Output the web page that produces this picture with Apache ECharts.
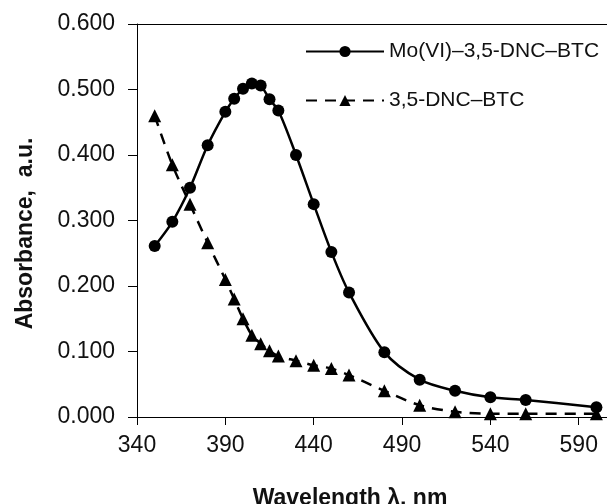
<!DOCTYPE html>
<html>
<head>
<meta charset="utf-8">
<script src="https://cdn.jsdelivr.net/npm/echarts@6/dist/echarts.min.js"></script>
<style>html,body{margin:0;padding:0;background:#fff}#c{width:607px;height:504px}</style>
</head>
<body>
<div id="c"></div>
<script>
var seriesNames = ['Mo(VI)\u20133,5-DNC\u2013BTC', '3,5-DNC\u2013BTC'];
var wlComplex = [350, 360, 370, 380, 390, 395, 400, 405, 410, 415, 420, 430, 440, 450, 460, 480, 500, 520, 540, 560, 600];
var absComplex = [0.261, 0.298, 0.350, 0.415, 0.466, 0.486, 0.501, 0.509, 0.506, 0.485, 0.468, 0.400, 0.325, 0.252, 0.190, 0.099, 0.057, 0.040, 0.030, 0.026, 0.015];
var wlLigand = [350, 360, 370, 380, 390, 395, 400, 405, 410, 415, 420, 430, 440, 450, 460, 480, 500, 520, 540, 560, 600];
var absLigand = [0.460, 0.385, 0.325, 0.266, 0.210, 0.180, 0.150, 0.125, 0.112, 0.101, 0.093, 0.086, 0.079, 0.074, 0.064, 0.040, 0.018, 0.008, 0.005, 0.005, 0.005];
var xTicks = [340, 390, 440, 490, 540, 590];
var yTicks = [0.000, 0.100, 0.200, 0.300, 0.400, 0.500, 0.600];
var xTitle = 'Wavelength \u03bb, nm';
var yTitle = 'Absorbance,  a.u.';

function pairs(xs, ys) { return xs.map(function (x, i) { return [x, ys[i]]; }); }

var FONT = '"Liberation Sans", Arial, sans-serif';
var chart = echarts.init(document.getElementById('c'), null, { renderer: 'canvas' });
chart.setOption({
  animation: false,
  backgroundColor: '#ffffff',
  grid: { left: 137, right: 0, top: 24, bottom: 87, containLabel: false, outerBoundsMode: 'none' },
  legend: {
    orient: 'vertical',
    left: 300,
    top: 36,
    itemWidth: 78,
    itemHeight: 14,
    itemGap: 28,
    textStyle: { fontFamily: FONT, fontSize: 21, color: '#111', padding: [0, 0, 0, 0] },
    data: seriesNames
  },
  xAxis: [{
    type: 'value',
    min: xTicks[0],
    max: 606,
    interval: 50,
    position: 'bottom',
    axisLine: { show: true, lineStyle: { color: '#000', width: 1 } },
    axisTick: { show: true, inside: false, length: 8, lineStyle: { color: '#000', width: 1 } },
    splitLine: { show: false },
    axisLabel: {
      margin: 17,
      fontFamily: FONT, fontSize: 23, color: '#111',
      showMaxLabel: false,
      formatter: function (v) { return xTicks.indexOf(v) >= 0 ? String(v) : ''; }
    },
    name: xTitle,
    nameLocation: 'middle',
    nameGap: 70,
    nameTextStyle: { fontFamily: FONT, fontSize: 23, fontWeight: 'bold', color: '#111', padding: [0, 44, 0, 0] }
  }, {
    type: 'value',
    min: xTicks[0],
    max: 606,
    position: 'top',
    axisLine: { show: true, lineStyle: { color: '#000', width: 1 } },
    axisTick: { show: false },
    axisLabel: { show: false },
    splitLine: { show: false }
  }],
  yAxis: {
    type: 'value',
    min: yTicks[0],
    max: yTicks[yTicks.length - 1],
    interval: 0.1,
    axisLine: { show: true, lineStyle: { color: '#000', width: 1 } },
    axisTick: { show: true, inside: false, length: 9, lineStyle: { color: '#000', width: 1 } },
    splitLine: { show: false },
    axisLabel: {
      margin: 22,
      fontFamily: FONT, fontSize: 23, color: '#111',
      formatter: function (v) { return v.toFixed(3); }
    },
    name: yTitle,
    nameLocation: 'middle',
    nameGap: 100,
    nameRotate: 90,
    nameTextStyle: { fontFamily: FONT, fontSize: 23, fontWeight: 'bold', color: '#111', padding: [0, 26, 0, 0] }
  },
  series: [{
    name: seriesNames[0],
    type: 'line',
    data: pairs(wlComplex, absComplex),
    smooth: 0.3,
    symbol: 'circle',
    symbolSize: 12,
    lineStyle: { color: '#000', width: 2.5 },
    itemStyle: { color: '#000' },
    z: 3
  }, {
    name: seriesNames[1],
    type: 'line',
    data: pairs(wlLigand, absLigand),
    smooth: 0.3,
    symbol: 'triangle',
    symbolSize: 13,
    lineStyle: { color: '#000', width: 2.5, type: [11, 8] },
    itemStyle: { color: '#000' },
    z: 2
  }]
});
</script>
</body>
</html>
